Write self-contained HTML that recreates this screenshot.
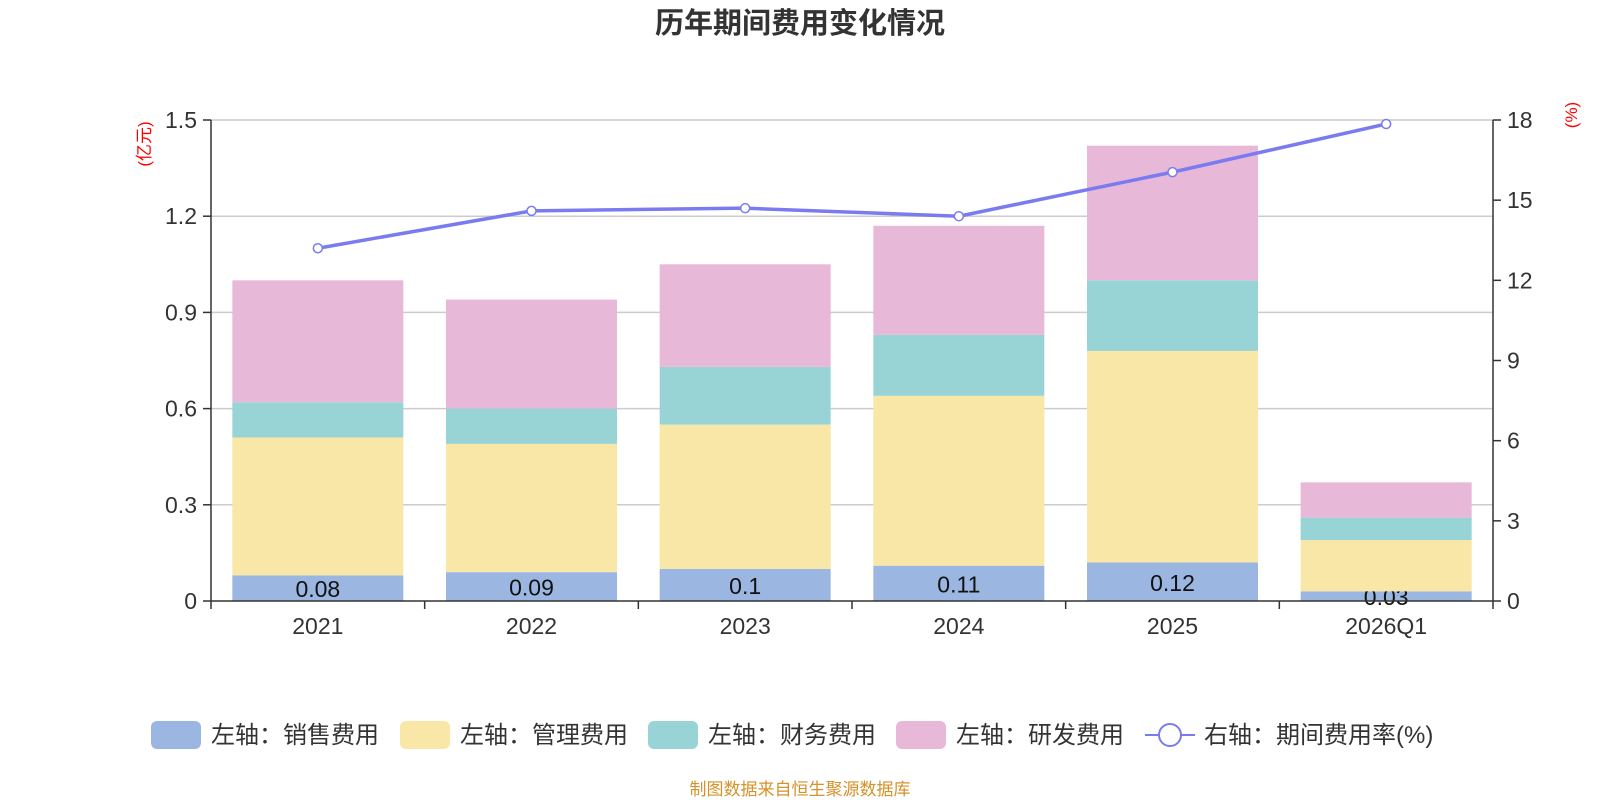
<!DOCTYPE html>
<html><head><meta charset="utf-8"><style>
html,body{margin:0;padding:0;background:#fff;width:1600px;height:800px;overflow:hidden}
svg text{font-family:"Liberation Sans","Noto Sans CJK SC",sans-serif}
</style></head><body>
<svg id="chart" width="1600" height="800" xmlns="http://www.w3.org/2000/svg">
<text x="800" y="33" text-anchor="middle" font-size="29" font-weight="bold" fill="#333">历年期间费用变化情况</text>
<text transform="translate(150,144) rotate(-90)" text-anchor="middle" font-size="17" fill="red">(亿元)</text>
<text transform="translate(1577,115) rotate(-90)" text-anchor="middle" font-size="17" fill="red">(%)</text>
<g id="grid"></g><g id="bars"></g><g id="axes"></g><g id="line"></g>
<g id="legend"></g>
<text x="800" y="795" text-anchor="middle" font-size="17" fill="#d4922a">制图数据来自恒生聚源数据库</text>
</svg>
<script>
const categories=["2021","2022","2023","2024","2025","2026Q1"];
const sales=[0.08,0.09,0.1,0.11,0.12,0.03];
const mgmt=[0.43,0.40,0.45,0.53,0.66,0.16];
const fin=[0.11,0.11,0.18,0.19,0.22,0.07];
const rd=[0.38,0.34,0.32,0.34,0.42,0.11];
const rate=[13.2,14.6,14.7,14.4,16.05,17.85];
const leftTicks=[0,0.3,0.6,0.9,1.2,1.5];
const rightTicks=[0,3,6,9,12,15,18];
const NS="http://www.w3.org/2000/svg";
const X0=211,X1=1493,Y0=601,Y1=120;
const band=(X1-X0)/categories.length, bw=171;
const yL=v=>Y0-(v/1.5)*(Y0-Y1);
const yR=v=>Y0-(v/18)*(Y0-Y1);
const xC=i=>X0+band*(i+0.5);
function mk(t,a,p){const e=document.createElementNS(NS,t);for(const k in a)e.setAttribute(k,a[k]);p.appendChild(e);return e;}
const grid=document.getElementById('grid'),bars=document.getElementById('bars'),axes=document.getElementById('axes'),line=document.getElementById('line'),leg=document.getElementById('legend');
leftTicks.forEach(v=>{
 if(v>0){const g=mk('line',{x1:X0,x2:X1,y1:yL(v),y2:yL(v),stroke:'#ccc','stroke-width':1.5},grid);
 
 }
 const tk=mk('line',{x1:X0-8,x2:X0,y1:yL(v),y2:yL(v),stroke:'#333','stroke-width':1.5},axes);
 
 
 const t=mk('text',{x:X0-14,y:yL(v)+8,'text-anchor':'end','font-size':23,fill:'#333'},axes);t.textContent=v;
 
 
});
rightTicks.forEach(v=>{
 const tk=mk('line',{x1:X1,x2:X1+8,y1:yR(v),y2:yR(v),stroke:'#333','stroke-width':1.5},axes);
 
 
 const t=mk('text',{x:X1+14,y:yR(v)+8,'font-size':23,fill:'#333'},axes);t.textContent=v;
 
 
});
const series=[[sales,'#9bb6e0','sales'],[mgmt,'#f8e7a6','mgmt'],[fin,'#98d4d5','finance'],[rd,'#e7b8d8','rnd']];
const base=categories.map(()=>0);
series.forEach(([d,c,n],si)=>{
 d.forEach((v,i)=>{
  const r=mk('rect',{x:xC(i)-bw/2,y:yL(base[i]+v),width:bw,height:yL(base[i])-yL(base[i]+v),fill:c},bars);
  
  
  if(si===0){const t=mk('text',{x:xC(i),y:(yL(base[i])+yL(base[i]+v))/2+9,'text-anchor':'middle','font-size':23,fill:'#111'},bars);t.textContent=v;
   
   }
  base[i]+=v;
 });
});
const la=mk('line',{x1:X0,x2:X0,y1:Y1,y2:Y0,stroke:'#333','stroke-width':1.5},axes);

const ra=mk('line',{x1:X1,x2:X1,y1:Y1,y2:Y0,stroke:'#333','stroke-width':1.5},axes);

const xa=mk('line',{x1:X0,x2:X1,y1:Y0,y2:Y0,stroke:'#333','stroke-width':1.5},axes);

categories.forEach((c,i)=>{
 const tk=mk('line',{x1:X0+band*i,x2:X0+band*i,y1:Y0,y2:Y0+8,stroke:'#333','stroke-width':1.5},axes);
 
 const t=mk('text',{x:xC(i),y:Y0+33,'text-anchor':'middle','font-size':23,fill:'#333'},axes);t.textContent=c;
 
 
});
const tk=mk('line',{x1:X1,x2:X1,y1:Y0,y2:Y0+8,stroke:'#333','stroke-width':1.5},axes);
const pl=mk('polyline',{points:rate.map((v,i)=>xC(i)+','+yR(v)).join(' '),fill:'none',stroke:'#7b7bf0','stroke-width':3.5},line);

rate.forEach((v,i)=>{const c=mk('circle',{cx:xC(i),cy:yR(v),r:4.5,fill:'#fff',stroke:'#7b7bf0','stroke-width':1.5},line);
 
 });
const items=[['左轴：销售费用','#9bb6e0',151],['左轴：管理费用','#f8e7a6',400],['左轴：财务费用','#98d4d5',648],['左轴：研发费用','#e7b8d8',896]];
items.forEach(([t,c,x])=>{
 const r=mk('rect',{x:x,y:721,width:50,height:28,rx:6,fill:c},leg);
 
 const tx=mk('text',{x:x+60,y:743,'font-size':24,fill:'#333'},leg);tx.textContent=t;
 
});
mk('line',{x1:1145,x2:1195,y1:735,y2:735,stroke:'#7b7bf0','stroke-width':2},leg);
const lc=mk('circle',{cx:1170,cy:735,r:11,fill:'#fff',stroke:'#7b7bf0','stroke-width':2},leg);

const lt=mk('text',{x:1204,y:743,'font-size':24,fill:'#333'},leg);lt.textContent='右轴：期间费用率(%)';

</script>
</body></html>
